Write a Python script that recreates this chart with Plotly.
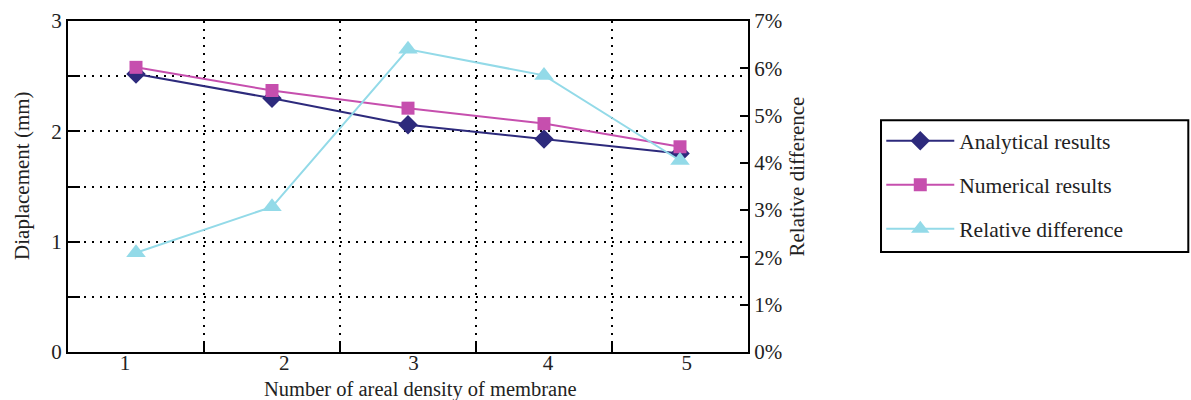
import plotly.graph_objects as go

# ---- data ----
categories = [1, 2, 3, 4, 5]
tick_labels = ["1", "2", "3", "4", "5"]
analytical = [2.52, 2.30, 2.06, 1.93, 1.80]
numerical = [2.58, 2.37, 2.21, 2.07, 1.86]
relative_pct = [2.1, 3.07, 6.4, 5.85, 4.05]

left_ticks = [0, 0.5, 1, 1.5, 2, 2.5, 3]
left_ticktext = ["0", "", "1", "", "2", "", "3"]
right_ticks = [0, 1, 2, 3, 4, 5, 6, 7]
right_ticktext = ["0%", "1%", "2%", "3%", "4%", "5%", "6%", "7%"]

x_title = "Number of areal density of membrane"
y_title = "Diaplacement (mm)"
y2_title = "Relative difference"

FONT = "Liberation Serif"
NAVY = "#2d2a7c"
MAGENTA = "#c64fae"
CYAN = "#93dae8"

fig = go.Figure()
fig.add_trace(go.Scatter(
    x=categories, y=analytical, name="Analytical results", mode="lines+markers",
    line=dict(color=NAVY, width=2), marker=dict(symbol="diamond", size=15, color=NAVY),
    legendgroup="a"))
fig.add_trace(go.Scatter(
    x=categories, y=numerical, name="Numerical results", mode="lines+markers",
    line=dict(color=MAGENTA, width=2), marker=dict(symbol="square", size=13, color=MAGENTA),
    legendgroup="b"))
fig.add_trace(go.Scatter(
    x=categories, y=relative_pct, name="Relative difference", mode="lines+markers",
    line=dict(color=CYAN, width=2), marker=dict(symbol="triangle-up", size=17, color=CYAN),
    yaxis="y2", legendgroup="c"))

# label positions slightly offset as in reference
label_pos = [0.92, 2.09, 3.04, 4.03, 5.05]

fig.update_layout(
    width=1191, height=400,
    margin=dict(l=68, r=443, t=21, b=48),
    paper_bgcolor="white", plot_bgcolor="white",
    font=dict(family=FONT, size=21, color="#222"),
    showlegend=True,
    xaxis=dict(
        range=[0.5, 5.5], tickvals=label_pos, ticktext=tick_labels,
        showgrid=False, zeroline=False, ticks="", automargin=False,
        showline=True, linecolor="black", linewidth=2, mirror=True,
        minor=dict(tickvals=[1.5, 2.5, 3.5, 4.5], showgrid=True, gridcolor="black",
                   gridwidth=2, griddash="2px,6px", ticks="inside", ticklen=10,
                   tickwidth=2, tickcolor="black"),
        tickfont=dict(size=21), ticklabelstandoff=-9,
    ),
    yaxis=dict(
        range=[0, 3], tickvals=left_ticks, ticktext=left_ticktext, automargin=False,
        showgrid=True, gridcolor="black", gridwidth=2, griddash="2px,6px",
        zeroline=False, ticks="inside", ticklen=12, tickwidth=2, tickcolor="black",
        showline=True, linecolor="black", linewidth=2, mirror=True,
        tickfont=dict(size=21),
    ),
    yaxis2=dict(
        range=[0, 7], tickvals=right_ticks, ticktext=right_ticktext, automargin=False,
        overlaying="y", side="right", showgrid=False, zeroline=False,
        ticks="inside", ticklen=8, tickwidth=2, tickcolor="black",
        showline=True, linecolor="black", linewidth=2,
        tickfont=dict(size=21),
    ),
    legend=dict(
        x=1.196, y=0.70, xanchor="left", yanchor="top",
        bgcolor="rgba(0,0,0,0)", borderwidth=0,
        font=dict(family=FONT, size=21.5, color="#222"),
        traceorder="grouped", tracegroupgap=13, itemwidth=68,
    ),
)

# legend frame (wider than plotly's automatic legend box, as in the reference)
fig.add_shape(type="rect", xref="paper", yref="paper",
              x0=1.1956, x1=1.6475, y0=0.302, y1=0.70,
              line=dict(color="black", width=2), fillcolor="white", layer="below")

fig.add_annotation(text=x_title, xref="paper", yref="paper", x=0.518, y=-0.112,
                   xanchor="center", yanchor="middle", showarrow=False,
                   font=dict(size=20.5, family=FONT, color="#222"))
fig.add_annotation(text=y_title, xref="paper", yref="paper", x=-0.0676, y=0.532,
                   xanchor="center", yanchor="middle", showarrow=False, textangle=-90,
                   font=dict(size=21, family=FONT, color="#222"))
fig.add_annotation(text=y2_title, xref="paper", yref="paper", x=1.072, y=0.53,
                   xanchor="center", yanchor="middle", showarrow=False, textangle=-90,
                   font=dict(size=21, family=FONT, color="#222"))

fig.write_html("out.html")
